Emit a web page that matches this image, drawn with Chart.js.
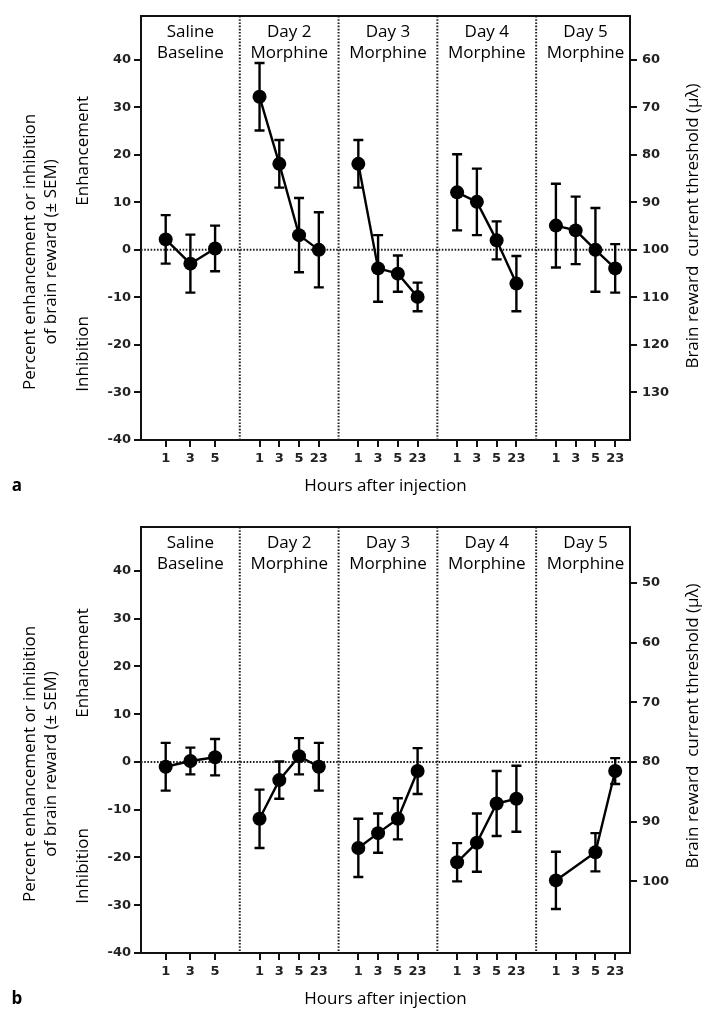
<!DOCTYPE html>
<html>
<head>
<meta charset="utf-8">
<script src="https://cdn.jsdelivr.net/npm/chart.js@4.4.1/dist/chart.umd.min.js"></script>
<style>
  html, body { margin: 0; padding: 0; background: #fff; }
  canvas { position: absolute; left: 0; }
  #chartA { top: 0; }
  #chartB { top: 500px; }
</style>
</head>
<body>
<canvas id="chartA" width="704" height="500"></canvas>
<canvas id="chartB" width="704" height="512"></canvas>
<script>
// groups and hours
const groupLabels = [
    ["Saline", "Baseline"],
    ["Day 2", "Morphine"],
    ["Day 3", "Morphine"],
    ["Day 4", "Morphine"],
    ["Day 5", "Morphine"]
];
const hoursBaseline = [1, 3, 5];
const hoursMorphine = [1, 3, 5, 23];

const leftTicks = [-40, -30, -20, -10, 0, 10, 20, 30, 40];
const rightTicksA = [60, 70, 80, 90, 100, 110, 120, 130];
const rightTicksB = [50, 60, 70, 80, 90, 100];

// panel a: percent change, one row per group
const meansA = [
    [2.2, -2.9, 0.3],
    [32.2, 18.1, 3.1, 0],
    [18.1, -3.9, -5.0, -9.9],
    [12.1, 10.1, 2.0, -7.1],
    [5.1, 4.1, 0, -3.9]
];
const semA = [
    [5.1, 6.1, 4.8],
    [7.1, 5.0, 7.8, 7.9],
    [5.0, 7.0, 3.8, 3.0],
    [8.0, 7.0, 4.0, 5.8],
    [8.8, 7.1, 8.8, 5.1]
];

// panel b (day 5, 3 h not tested)
const meansB = [
    [-1.0, 0.2, 1.0],
    [-11.9, -3.8, 1.2, -1.0],
    [-18.0, -14.9, -11.9, -1.9],
    [-21.0, -16.9, -8.7, -7.7],
    [-24.8, null, -18.9, -1.9]
];
const semB = [
    [5.0, 2.8, 3.8],
    [6.1, 3.9, 3.8, 5.0],
    [6.1, 4.1, 4.3, 4.8],
    [4.0, 6.1, 6.8, 6.9],
    [6.0, null, 4.0, 2.7]
];

// threshold axis: value = base - factor * percent
const thresholdA = { base: 100, factor: 1 };
const thresholdB = { base: 80, factor: 0.8 };

const GROUP_W = 5;
const X_MAX = 24.75;
const Y_MIN = -40;
const Y_MAX = 49.2;

function hoursFor(g) {
    return g === 0 ? hoursBaseline : hoursMorphine;
}

function xFor(g, j) {
    const step = GROUP_W / (hoursFor(g).length + 1);
    return g * GROUP_W + (j + 1) * step;
}

const xTickPos = [];
const xTickLabels = [];
groupLabels.forEach((_, g) => {
    hoursFor(g).forEach((h, j) => {
        xTickPos.push(xFor(g, j));
        xTickLabels.push(String(h));
    });
});
const dividers = [1, 2, 3, 4].map(g => g * GROUP_W);

function buildDatasets(means, sems) {
    return means.map((vals, g) => {
        const pts = [];
        vals.forEach((v, j) => {
            if (v !== null) pts.push({ x: xFor(g, j), y: v, sem: sems[g][j] });
        });
        return {
            data: pts,
            borderColor: "#000",
            borderWidth: 2.4,
            pointRadius: 7,
            pointHoverRadius: 7,
            pointBackgroundColor: "#000",
            pointBorderWidth: 0,
            fill: false,
            tension: 0
        };
    });
}

const TEXT_FONT = '"Open Sans", "Noto Sans", sans-serif';
const TICK_FONT = '"DejaVu Sans", "Liberation Sans", sans-serif';

const panelDecor = {
    id: "panelDecor",
    beforeDatasetsDraw(chart) {
        const { ctx, chartArea: ca } = chart;
        const x = chart.scales.x, y = chart.scales.y;
        ctx.save();
        // dotted zero line and group dividers
        ctx.strokeStyle = "#222";
        ctx.lineWidth = 2;
        ctx.setLineDash([1.6, 1.6]);
        const y0 = y.getPixelForValue(0);
        ctx.beginPath();
        ctx.moveTo(ca.left, y0);
        ctx.lineTo(ca.right, y0);
        ctx.stroke();
        dividers.forEach(d => {
            const px = x.getPixelForValue(d);
            ctx.beginPath();
            ctx.moveTo(px, ca.top);
            ctx.lineTo(px, ca.bottom);
            ctx.stroke();
        });
        ctx.setLineDash([]);

        // top frame line
        ctx.strokeStyle = "#111";
        ctx.lineWidth = 2;
        ctx.beginPath();
        ctx.moveTo(ca.left - 1, ca.top);
        ctx.lineTo(ca.right + 1, ca.top);
        ctx.stroke();

        // error bars (± SEM)
        ctx.strokeStyle = "#000";
        ctx.lineWidth = 2.4;
        chart.data.datasets.forEach(ds => {
            ds.data.forEach(p => {
                const px = x.getPixelForValue(p.x);
                const top = y.getPixelForValue(p.y + p.sem);
                const bot = y.getPixelForValue(p.y - p.sem);
                ctx.beginPath();
                ctx.moveTo(px, top);
                ctx.lineTo(px, bot);
                ctx.moveTo(px - 5, top);
                ctx.lineTo(px + 5, top);
                ctx.moveTo(px - 5, bot);
                ctx.lineTo(px + 5, bot);
                ctx.stroke();
            });
        });
        ctx.restore();
    },
    afterDraw(chart, args, opts) {
        const { ctx, chartArea: ca } = chart;
        const x = chart.scales.x, y = chart.scales.y;
        const y0 = y.getPixelForValue(0);
        ctx.save();
        ctx.fillStyle = "#000";
        ctx.textAlign = "center";
        ctx.textBaseline = "middle";
        ctx.font = "17px " + TEXT_FONT;

        // group headings
        groupLabels.forEach((lines, g) => {
            const cx = x.getPixelForValue(g * GROUP_W + GROUP_W / 2);
            ctx.fillText(lines[0], cx, ca.top + 16);
            ctx.fillText(lines[1], cx, ca.top + 37);
        });

        // x title
        ctx.fillText("Hours after injection", (ca.left + ca.right) / 2, ca.bottom + 46);

        // rotated titles
        const vtext = (t, px, py) => {
            ctx.save();
            ctx.translate(px, py);
            ctx.rotate(-Math.PI / 2);
            ctx.fillText(t, 0, 0);
            ctx.restore();
        };
        vtext("Percent enhancement or inhibition", 30, y0 + 2);
        vtext("of brain reward (± SEM)", 51, y0 + 2);
        vtext("Enhancement", 83, y0 - 99);
        vtext("Inhibition", 83, y0 + 104);
        vtext("Brain reward  current threshold (µλ)", 693, 226);

        // panel letter
        ctx.font = "bold 17px " + TEXT_FONT;
        ctx.fillText(opts.letter, 17, ca.bottom + 46);
        ctx.restore();
    }
};

function makeChart(canvasId, means, sems, rightTicks, thr, letter, topPad, xHeight) {
    const ctx = document.getElementById(canvasId).getContext("2d");
    const axisBorder = { display: true, color: "#111", width: 2 };
    const tickGrid = {
        display: true,
        drawOnChartArea: false,
        drawTicks: true,
        tickLength: 7,
        color: "#111",
        lineWidth: 2
    };
    const tickFont = { family: TICK_FONT, size: 13, weight: "bold" };

    return new Chart(ctx, {
        type: "line",
        data: { datasets: buildDatasets(means, sems) },
        options: {
            responsive: false,
            animation: false,
            events: [],
            layout: { padding: { top: topPad, left: 0, right: 0, bottom: 0 } },
            plugins: {
                legend: { display: false },
                tooltip: { enabled: false },
                panelDecor: { letter: letter }
            },
            scales: {
                x: {
                    type: "linear",
                    min: 0,
                    max: X_MAX,
                    border: axisBorder,
                    grid: tickGrid,
                    afterBuildTicks: s => { s.ticks = xTickPos.map(v => ({ value: v })); },
                    afterFit: s => { s.height = xHeight; },
                    ticks: {
                        autoSkip: false,
                        maxRotation: 0,
                        minRotation: 0,
                        padding: 4,
                        color: "#222",
                        font: tickFont,
                        callback: (v, i) => xTickLabels[i]
                    }
                },
                y: {
                    type: "linear",
                    position: "left",
                    min: Y_MIN,
                    max: Y_MAX,
                    border: axisBorder,
                    grid: tickGrid,
                    afterBuildTicks: s => { s.ticks = leftTicks.map(v => ({ value: v })); },
                    afterFit: s => { s.width = 141; },
                    ticks: { padding: 3, color: "#222", font: tickFont }
                },
                y2: {
                    type: "linear",
                    position: "right",
                    reverse: true,
                    min: thr.base - thr.factor * Y_MAX,
                    max: thr.base - thr.factor * Y_MIN,
                    border: axisBorder,
                    grid: tickGrid,
                    afterBuildTicks: s => { s.ticks = rightTicks.map(v => ({ value: v })); },
                    afterFit: s => { s.width = 74; },
                    ticks: { padding: 5, color: "#222", font: tickFont }
                }
            }
        },
        plugins: [panelDecor]
    });
}

makeChart("chartA", meansA, semA, rightTicksA, thresholdA, "a", 16, 60);
makeChart("chartB", meansB, semB, rightTicksB, thresholdB, "b", 27, 59);
</script>
</body>
</html>
